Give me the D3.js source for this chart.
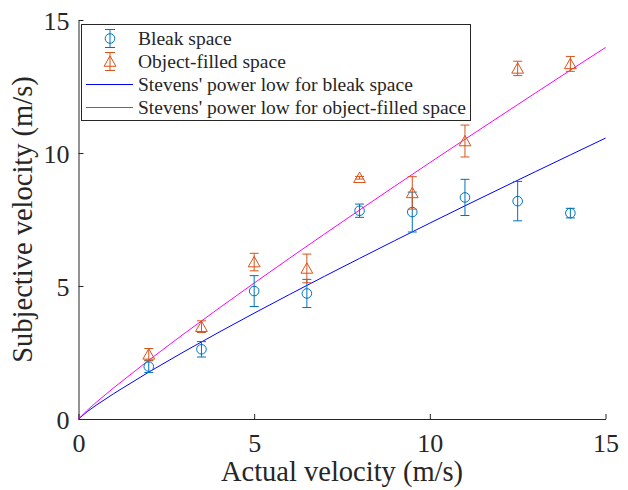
<!DOCTYPE html>
<html>
<head>
<meta charset="utf-8">
<script src="https://cdn.jsdelivr.net/npm/d3@7"></script>
<style>
  html, body { margin: 0; padding: 0; background: #fff; }
  svg { display: block; }
  text { font-family: "Liberation Serif", "Times New Roman", serif; fill: #262626; }
</style>
</head>
<body>
<svg id="chart" width="628" height="490"></svg>
<script>
// ---- data ----
const velocities = [2, 3.5, 5, 6.5, 8, 9.5, 11, 12.5, 14];
const bleakMean = [1.97, 2.62, 4.81, 4.72, 7.83, 7.78, 8.33, 8.19, 7.74];
const bleakErr  = [0.22, 0.29, 0.58, 0.53, 0.25, 0.75, 0.68, 0.74, 0.18];
const objectMean = [2.43, 3.47, 5.9, 5.66, 9.07, 8.5, 10.45, 13.18, 13.35];
const objectErr  = [0.22, 0.22, 0.33, 0.54, 0.05, 0.61, 0.6, 0.27, 0.28];
const curveX      = [0, 0.25, 0.5, 1, 2, 3, 4, 5, 6, 7, 8, 9, 10, 11, 12, 13, 14, 15];
const bleakFit    = [0, 0.278, 0.515, 0.953, 1.764, 2.528, 3.264, 3.979, 4.678, 5.364, 6.038, 6.705, 7.364, 8.014, 8.657, 9.295, 9.928, 10.56];
const objectFit   = [0, 0.330, 0.622, 1.172, 2.21, 3.202, 4.167, 5.110, 6.039, 6.953, 7.856, 8.751, 9.637, 10.515, 11.386, 12.251, 13.113, 13.966];
const xTicks = [0, 5, 10, 15];
const yTicks = [0, 5, 10, 15];
const legendLabels = ["Bleak space", "Object-filled space",
  "Stevens' power low for bleak space", "Stevens' power low for object-filled space"];
const xLabel = "Actual velocity (m/s)";
const yLabel = "Subjective velocity (m/s)";

// ---- layout ----
const svg = d3.select("#chart");
const L = 78.5, R = 605.5, T = 20, B = 419;
const x = d3.scaleLinear().domain([0, 15]).range([L, R]);
const y = d3.scaleLinear().domain([0, 15]).range([B, T]);
const cBlue = "#0072BD", cOrange = "#D95319";
const axisColor = "#262626";
const font = '"Liberation Serif", "Times New Roman", serif';

// axes
const xAxis = svg.append("g").attr("transform", `translate(0,${B})`)
  .call(d3.axisBottom(x).tickValues(xTicks).tickSizeInner(-5).tickSizeOuter(0).tickPadding(15));
const yAxis = svg.append("g").attr("transform", `translate(${L},0)`)
  .call(d3.axisLeft(y).tickValues(yTicks).tickSizeInner(-5).tickSizeOuter(0).tickPadding(9));
[xAxis, yAxis].forEach(g => {
  g.attr("font-family", font);
  g.select(".domain").attr("stroke", axisColor).attr("stroke-width", 1);
  g.selectAll(".tick line").attr("stroke", axisColor);
  g.selectAll(".tick text").attr("font-size", 26).attr("fill", axisColor);
});
yAxis.selectAll(".tick text").attr("dy", "0.36em");

// fit curves
const line = d3.line().x((d, i) => x(curveX[i])).y(d => y(d));
svg.append("path").datum(bleakFit).attr("d", line).attr("fill", "none")
  .attr("stroke", "#0000FF").attr("stroke-width", 1);
svg.append("path").datum(objectFit).attr("d", line).attr("fill", "none")
  .attr("stroke", "#FF00FF").attr("stroke-width", 1);

// error bars
function drawMarker(g, marker, cx, cy) {
  if (marker === "circle") {
    g.append("circle").attr("cx", cx).attr("cy", cy).attr("r", 4.8);
  } else {
    const h = 5.6;
    g.append("path").attr("d", `M${cx},${cy - h}L${cx + h * 1.05},${cy + h * 0.85}L${cx - h * 1.05},${cy + h * 0.85}Z`);
  }
}
function errorBars(means, errs, color, marker) {
  const g = svg.append("g").attr("stroke", color).attr("fill", "none").attr("stroke-width", 1);
  const cap = 4.5;
  velocities.forEach((v, i) => {
    const cx = x(v), y1 = y(means[i] + errs[i]), y0 = y(means[i] - errs[i]);
    g.append("line").attr("x1", cx).attr("x2", cx).attr("y1", y1).attr("y2", y0);
    g.append("line").attr("x1", cx - cap).attr("x2", cx + cap).attr("y1", y1).attr("y2", y1);
    g.append("line").attr("x1", cx - cap).attr("x2", cx + cap).attr("y1", y0).attr("y2", y0);
    drawMarker(g, marker, cx, y(means[i]));
  });
}
errorBars(bleakMean, bleakErr, cBlue, "circle");
errorBars(objectMean, objectErr, cOrange, "triangle");

// legend
const lg = svg.append("g");
const lx0 = 81, ly0 = 24, lw = 389, lh = 96;
lg.append("rect").attr("x", lx0 + 0.5).attr("y", ly0 + 0.5).attr("width", lw).attr("height", lh)
  .attr("fill", "#fff").attr("stroke", axisColor).attr("stroke-width", 1);
const rowY = [38.5, 61.5, 84.5, 107.5];
legendLabels.forEach((t, i) => {
  const ry = rowY[i];
  if (i < 2) {
    const col = i === 0 ? cBlue : cOrange;
    const g = lg.append("g").attr("stroke", col).attr("fill", "none").attr("stroke-width", 1);
    const mx = 110;
    g.append("line").attr("x1", mx).attr("x2", mx).attr("y1", ry - 9).attr("y2", ry + 9);
    g.append("line").attr("x1", mx - 5).attr("x2", mx + 5).attr("y1", ry - 9).attr("y2", ry - 9);
    g.append("line").attr("x1", mx - 5).attr("x2", mx + 5).attr("y1", ry + 9).attr("y2", ry + 9);
    drawMarker(g, i === 0 ? "circle" : "triangle", mx, ry);
  } else {
    lg.append("line").attr("x1", 86).attr("x2", 133).attr("y1", ry).attr("y2", ry)
      .attr("stroke", i === 2 ? "#0000FF" : "#FF00FF").attr("stroke-width", 1);
  }
  lg.append("text").attr("x", 138).attr("y", ry).attr("dy", "0.33em")
    .attr("font-size", 19.5).text(t);
});

// axis labels
svg.append("text").attr("x", (L + R) / 2).attr("y", 481).attr("text-anchor", "middle")
  .attr("font-size", 28.5).text(xLabel);
svg.append("text").attr("transform", `translate(32,${(T + B) / 2}) rotate(-90)`)
  .attr("text-anchor", "middle").attr("font-size", 28.5).text(yLabel);
</script>
</body>
</html>
